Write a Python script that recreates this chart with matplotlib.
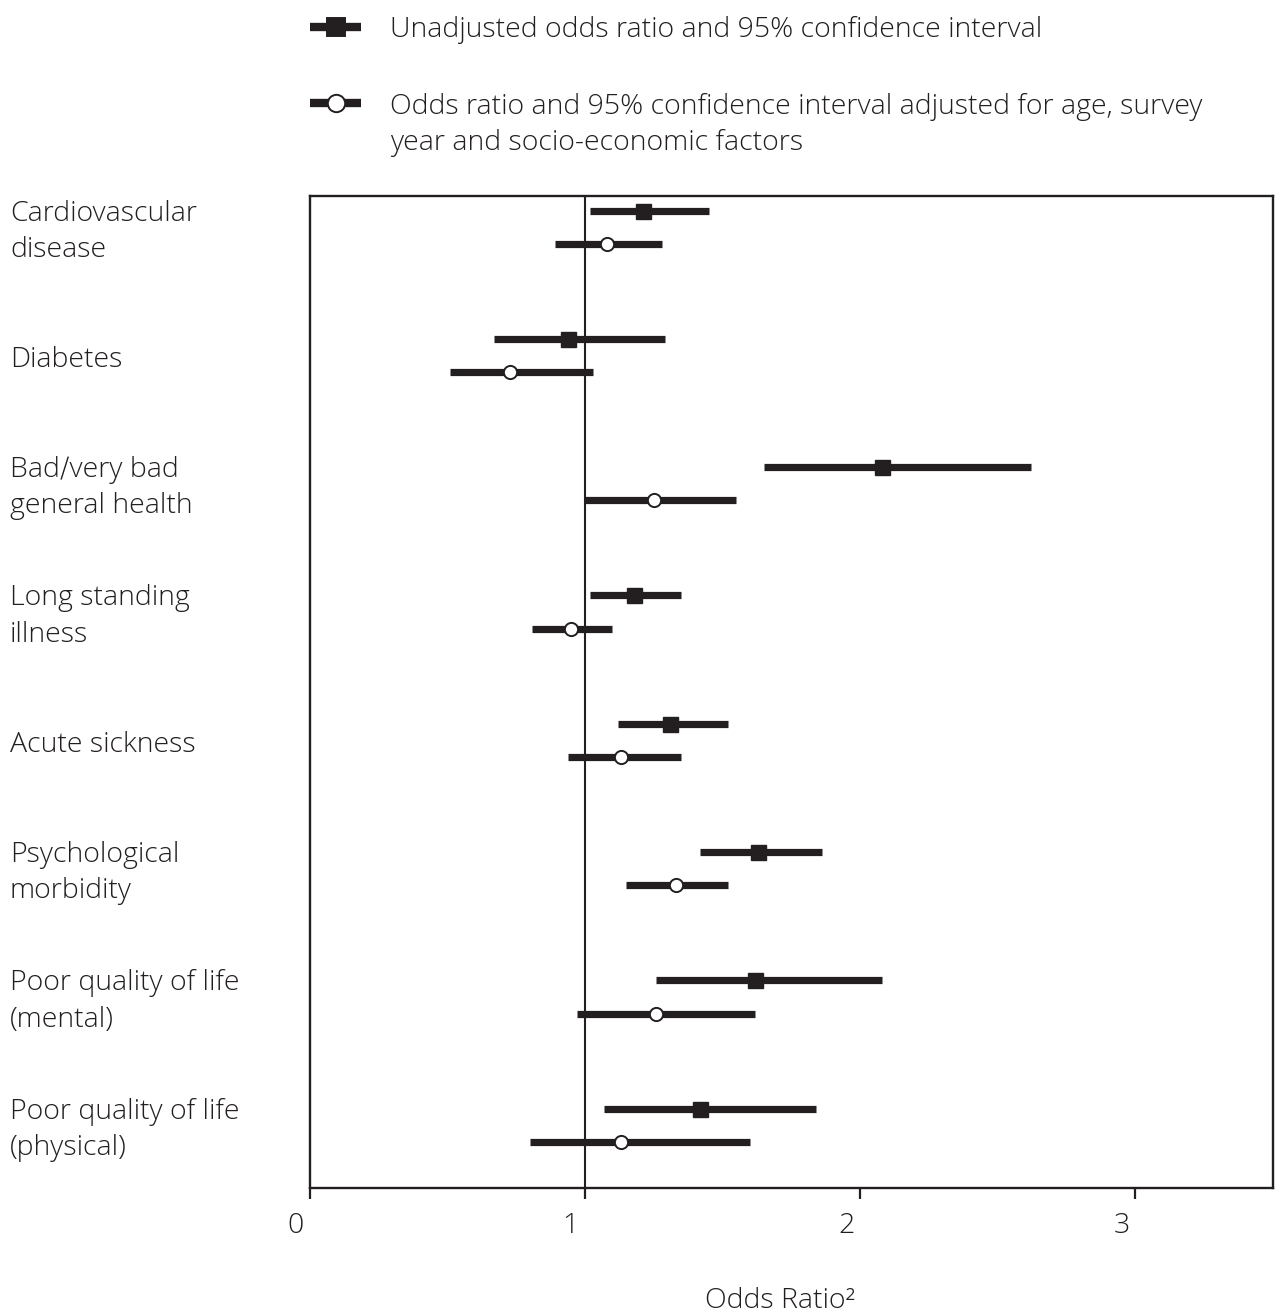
import matplotlib
matplotlib.use("Agg")
import matplotlib.pyplot as plt
import matplotlib.transforms as mtransforms
from matplotlib.lines import Line2D

plt.rcParams['font.family'] = ['Open Sans', 'DejaVu Sans']
plt.rcParams['font.weight'] = 'light'

# Outcomes and odds ratios with 95% confidence intervals
categories = [
    "Cardiovascular\ndisease",
    "Diabetes",
    "Bad\u2215very bad\ngeneral health",
    "Long standing\nillness",
    "Acute sickness",
    "Psychological\nmorbidity",
    "Poor quality of life\n(mental)",
    "Poor quality of life\n(physical)",
]
unadj_or = [1.21, 0.94, 2.08, 1.18, 1.31, 1.63, 1.62, 1.42]
unadj_lo = [1.02, 0.67, 1.65, 1.02, 1.12, 1.42, 1.26, 1.07]
unadj_hi = [1.45, 1.29, 2.62, 1.35, 1.52, 1.86, 2.08, 1.84]
adj_or = [1.08, 0.73, 1.25, 0.95, 1.13, 1.33, 1.26, 1.13]
adj_lo = [0.89, 0.51, 1.00, 0.81, 0.94, 1.15, 0.97, 0.80]
adj_hi = [1.28, 1.03, 1.55, 1.10, 1.35, 1.52, 1.62, 1.60]
xticks = [0, 1, 2, 3]

INK = "#231f20"
FS = 20.5
LS = 1.39
W, H = 1282, 1316
fig = plt.figure(figsize=(W / 100, H / 100), dpi=100)
ax = fig.add_axes([309.5 / W, 1 - 1188 / H, (1273 - 309.5) / W, (1188 - 195.7) / H])

n = len(categories)
off = 0.129
y_un = [i - off for i in range(n)]
y_ad = [i + off for i in range(n)]

ax.axvline(1, color=INK, lw=1.5, zorder=1)

ax.hlines(y_un, unadj_lo, unadj_hi, color=INK, lw=5.2, capstyle='butt', zorder=2)
ax.plot(unadj_or, y_un, ls='none', marker='s', ms=10.8, mfc=INK, mec=INK, zorder=3)
ax.hlines(y_ad, adj_lo, adj_hi, color=INK, lw=5.2, capstyle='butt', zorder=2)
ax.plot(adj_or, y_ad, ls='none', marker='o', ms=9.5, mfc='white', mec=INK, mew=1.4, zorder=3)

ax.set_xlim(0, 3.5)
ax.set_ylim(n - 1 + 0.489, -0.245)
ax.set_yticks([])
ax.set_xticks(xticks)
ax.set_xticklabels([str(t) for t in xticks], fontsize=FS, color=INK)
ax.tick_params(axis='x', direction='out', length=8, width=1.6, color=INK, pad=9)
shift = mtransforms.ScaledTranslation(-0.14, 0, fig.dpi_scale_trans)
for lab in ax.get_xticklabels():
    lab.set_transform(lab.get_transform() + shift)
for s in ax.spines.values():
    s.set_color(INK)
    s.set_linewidth(1.7)

# Outcome labels at the left margin
down = mtransforms.ScaledTranslation(0, -0.045, fig.dpi_scale_trans)
trans = mtransforms.blended_transform_factory(fig.transFigure, ax.transData) + down
for i, lab in enumerate(categories):
    ax.text(10 / W, i, lab, transform=trans, ha='left', va='center',
            fontsize=FS, color=INK, linespacing=LS)

fig.text(780 / W, 1 - 1301 / H, "Odds Ratio\u00b2", ha='center', va='center',
         fontsize=FS, color=INK)

# Key above the plot
def key(y_px, marker, ms, mfc):
    xs = [310 / W, 335.5 / W, 361 / W]
    ys = [1 - y_px / H] * 3
    fig.add_artist(Line2D(xs, ys, color=INK, lw=6, solid_capstyle='butt',
                          marker=marker, markevery=[1], ms=ms, mfc=mfc, mec=INK, mew=1.4))

key(27, 's', 12.5, INK)
key(103, 'o', 12.5, 'white')
fig.text(390 / W, 1 - 30 / H, "Unadjusted odds ratio and 95% confidence interval",
         ha='left', va='center', fontsize=FS, color=INK)
fig.text(390 / W, 1 - 125 / H,
         "Odds ratio and 95% confidence interval adjusted for age, survey\nyear and socio-economic factors",
         ha='left', va='center', fontsize=FS, color=INK, linespacing=LS)

fig.savefig("out.png", dpi=100, facecolor='white')
